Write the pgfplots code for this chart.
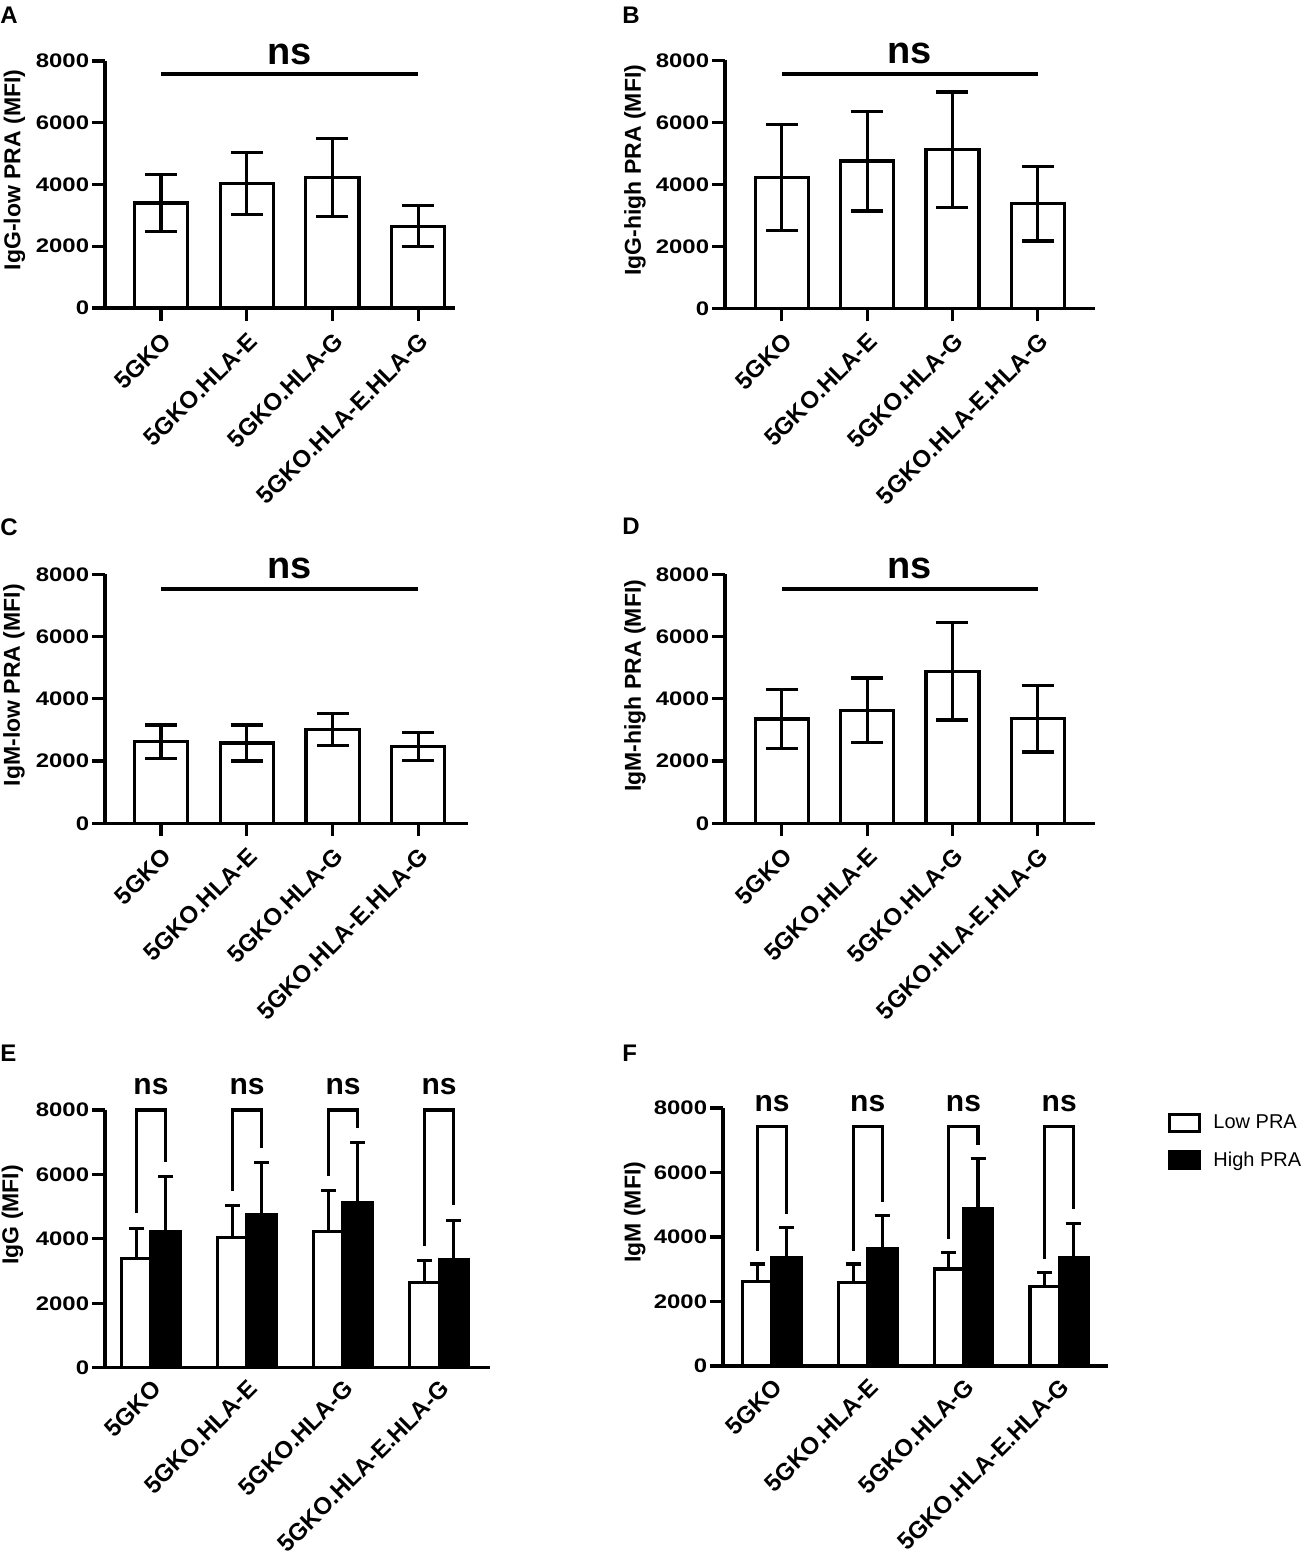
\documentclass[border=0pt]{standalone}
\usepackage{fontspec}
\setmainfont{Liberation Sans}
\usepackage{pgfplots}
\usepackage{pgfplotstable}
\pgfplotsset{compat=1.18}

\pgfplotstableread{
x y e
0 3400 930
1 4030 1000
2 4230 1260
3 2650 670
}\IgGlow
\pgfplotstableread{
x y e
0 4220 1720
1 4750 1610
2 5120 1860
3 3370 1200
}\IgGhigh
\pgfplotstableread{
x y e
0 2620 540
1 2580 580
2 3010 520
3 2470 440
}\IgMlow
\pgfplotstableread{
x y e
0 3350 950
1 3630 1040
2 4880 1560
3 3360 1070
}\IgMhigh

\pgfplotsset{
 panel/.style={
   scale only axis, anchor=south west, clip=false,
   axis x line=bottom, axis y line=left,
   axis line style={-, line width=1.6pt},
   ymin=0, ymax=8000, ytick={0,2000,4000,6000,8000},
   scaled y ticks=false,
   tick align=outside, major tick length=6.5pt,
   tick style={line width=1.6pt, black},
   xtick={0,1,2,3},
   xticklabels={5GKO,5GKO.HLA-E,5GKO.HLA-G,5GKO.HLA-E.HLA-G},
   /pgf/number format/assume math mode=true,
   /pgf/number format/1000 sep={},
   yticklabel style={font=\bfseries\fontsize{9.8}{11}\selectfont, xscale=1.22, inner sep=1pt},
   xticklabel style={font=\bfseries\fontsize{12}{14}\selectfont, rotate=45, anchor=north east},
   ylabel style={font=\bfseries\fontsize{11.5}{13}\selectfont, anchor=center},
 },
 single/.style={ybar, bar width=0.62, fill=white, draw=black, line width=1.6pt,
   error bars/y dir=both, error bars/y explicit,
   error bars/error bar style={line width=1.6pt, black},
   error bars/error mark options={rotate=90, line width=1.6pt, mark size=8pt, black}},
 lowbar/.style={fill=white, draw=black, line width=1.6pt,
   error bars/y dir=plus, error bars/y explicit,
   error bars/error bar style={line width=1.6pt, black},
   error bars/error mark options={rotate=90, line width=1.6pt, mark size=3.75pt, black}},
 highbar/.style={fill=black, draw=black, line width=1.6pt,
   error bars/y dir=plus, error bars/y explicit,
   error bars/error bar style={line width=1.6pt, black},
   error bars/error mark options={rotate=90, line width=1.6pt, mark size=3.75pt, black}},
}
\tikzset{
 nsbig/.style={font=\bfseries\fontsize{19}{22}\selectfont, anchor=base},
 nssmall/.style={font=\bfseries\fontsize{15}{18}\selectfont, anchor=base},
}

\begin{document}
\begin{tikzpicture}
\path[use as bounding box] (0,0) rectangle (652pt,777pt);

% A
\begin{axis}[panel, at={(52.5pt,623pt)}, width=175pt, height=123.5pt,
  xmin=-0.654, xmax=3.43, ylabel={IgG-low PRA (MFI)},
  ylabel style={at={(axis description cs:-0.2586,0.559)}}]
\addplot[single] table[x=x,y=y,y error=e] {\IgGlow};
\draw[line width=2pt] (axis cs:0,7580) -- (axis cs:3,7580);
\node[nsbig] at (axis cs:1.5,7900) {ns};
\end{axis}

% B
\begin{axis}[panel, at={(362.5pt,622.85pt)}, width=185pt, height=124pt,
  xmin=-0.665, xmax=3.67, ylabel={IgG-high PRA (MFI)},
  ylabel style={at={(axis description cs:-0.243,0.557)}}]
\addplot[single] table[x=x,y=y,y error=e] {\IgGhigh};
\draw[line width=2pt] (axis cs:0,7570) -- (axis cs:3,7570);
\node[nsbig] at (axis cs:1.5,7890) {ns};
\end{axis}

% C
\begin{axis}[panel, at={(52.5pt,365.35pt)}, width=181.5pt, height=124.5pt,
  xmin=-0.654, xmax=3.58, ylabel={IgM-low PRA (MFI)},
  ylabel style={at={(axis description cs:-0.251,0.555)}}]
\addplot[single] table[x=x,y=y,y error=e] {\IgMlow};
\draw[line width=2pt] (axis cs:0,7520) -- (axis cs:3,7520);
\node[nsbig] at (axis cs:1.5,7870) {ns};
\end{axis}

% D
\begin{axis}[panel, at={(362.5pt,365.35pt)}, width=185pt, height=124.5pt,
  xmin=-0.665, xmax=3.67, ylabel={IgM-high PRA (MFI)},
  ylabel style={at={(axis description cs:-0.243,0.552)}}]
\addplot[single] table[x=x,y=y,y error=e] {\IgMhigh};
\draw[line width=2pt] (axis cs:0,7520) -- (axis cs:3,7520);
\node[nsbig] at (axis cs:1.5,7870) {ns};
\end{axis}

% E
\begin{axis}[panel, at={(52.5pt,93.15pt)}, width=192.5pt, height=128.85pt,
  xmin=-0.479, xmax=3.53, ybar=0pt, bar width=0.305,
  xtick style={draw=none}, xticklabel shift=-6pt, ylabel={IgG (MFI)},
  ylabel style={at={(axis description cs:-0.240,0.593)}}]
\addplot[lowbar] table[x=x,y=y,y error=e] {\IgGlow};
\addplot[highbar] table[x=x,y=y,y error=e] {\IgGhigh};
\draw[line width=1.6pt] (axis cs:-0.1525,4793) -- (axis cs:-0.1525,8000) -- (axis cs:0.1525,8000) -- (axis cs:0.1525,6395);
\draw[line width=1.6pt] (axis cs:0.8475,5486) -- (axis cs:0.8475,8000) -- (axis cs:1.1525,8000) -- (axis cs:1.1525,6811);
\draw[line width=1.6pt] (axis cs:1.8475,5951) -- (axis cs:1.8475,8000) -- (axis cs:2.1525,8000) -- (axis cs:2.1525,7432);
\draw[line width=1.6pt] (axis cs:2.8475,3787) -- (axis cs:2.8475,8000) -- (axis cs:3.1525,8000) -- (axis cs:3.1525,5051);
\node[nssmall] at (axis cs:0,8480) {ns};
\node[nssmall] at (axis cs:1,8480) {ns};
\node[nssmall] at (axis cs:2,8480) {ns};
\node[nssmall] at (axis cs:3,8480) {ns};
\end{axis}

% F
\begin{axis}[panel, at={(361.5pt,94pt)}, width=192.5pt, height=129pt,
  xmin=-0.512, xmax=3.51, ybar=0pt, bar width=0.305,
  xtick style={draw=none}, xticklabel shift=-6pt, ylabel={IgM (MFI)},
  ylabel style={at={(axis description cs:-0.229,0.596)}},
  legend style={at={(axis description cs:1.156,0.99)}, anchor=north west,
    draw=none, fill=none, font=\fontsize{10}{12}\selectfont, row sep=6pt,
    column sep=4pt, inner sep=0pt},
  legend cell align=left]
\addplot[lowbar, legend image code/.code={\draw[line width=1.5pt,draw=black,fill=white] (0pt,-4.25pt) rectangle (15pt,4.25pt);}] table[x=x,y=y,y error=e] {\IgMlow};
\addlegendentry{Low PRA}
\addplot[highbar, legend image code/.code={\draw[line width=1.5pt,draw=black,fill=black] (0pt,-4.25pt) rectangle (15pt,4.25pt);}] table[x=x,y=y,y error=e] {\IgMhigh};
\addlegendentry{High PRA}
\draw[line width=1.6pt] (axis cs:-0.1525,3579) -- (axis cs:-0.1525,7430) -- (axis cs:0.1525,7430) -- (axis cs:0.1525,4719);
\draw[line width=1.6pt] (axis cs:0.8475,3579) -- (axis cs:0.8475,7430) -- (axis cs:1.1525,7430) -- (axis cs:1.1525,5101);
\draw[line width=1.6pt] (axis cs:1.8475,3942) -- (axis cs:1.8475,7430) -- (axis cs:2.1525,7430) -- (axis cs:2.1525,6861);
\draw[line width=1.6pt] (axis cs:2.8475,3312) -- (axis cs:2.8475,7430) -- (axis cs:3.1525,7430) -- (axis cs:3.1525,4874);
\node[nssmall] at (axis cs:0,7895) {ns};
\node[nssmall] at (axis cs:1,7895) {ns};
\node[nssmall] at (axis cs:2,7895) {ns};
\node[nssmall] at (axis cs:3,7895) {ns};
\end{axis}

\begin{scope}[every node/.style={anchor=north west, inner sep=0pt, font=\bfseries\fontsize{12}{14}\selectfont}]
\node at (0pt,773.5pt) {A};
\node at (311pt,773.5pt) {B};
\node at (0pt,518pt) {C};
\node at (311pt,518pt) {D};
\node at (0pt,254.5pt) {E};
\node at (311pt,254.5pt) {F};
\end{scope}
\end{tikzpicture}
\end{document}
